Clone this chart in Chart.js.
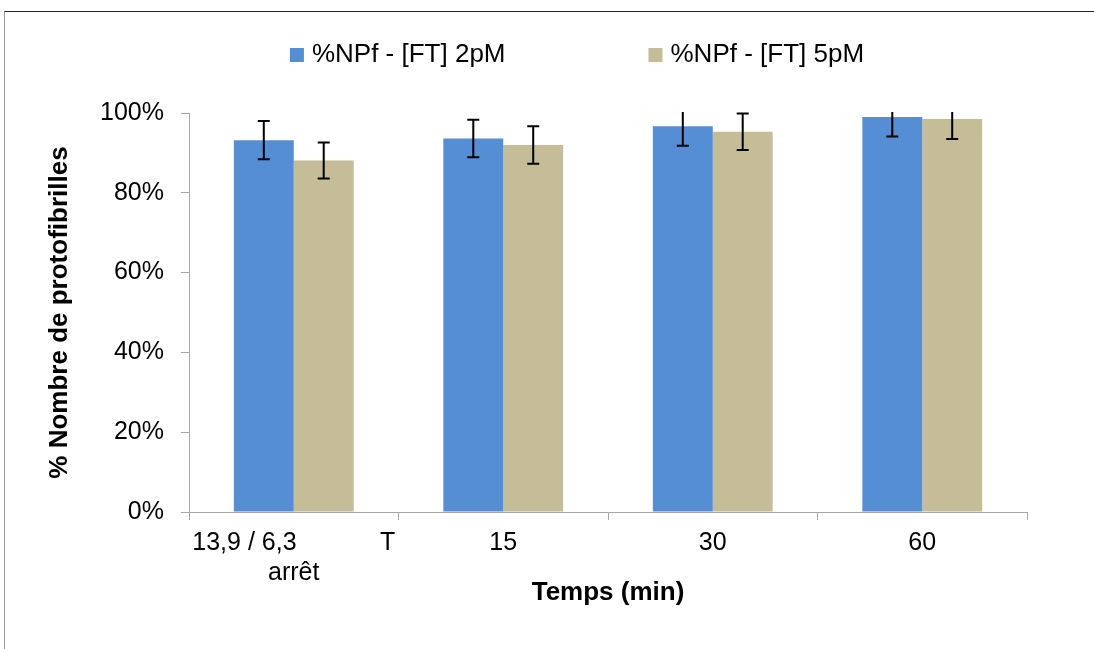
<!DOCTYPE html>
<html>
<head>
<meta charset="utf-8">
<script src="https://cdn.jsdelivr.net/npm/chart.js@4/dist/chart.umd.min.js"></script>
<style>
  html, body { margin: 0; padding: 0; background: #fff; }
  #frame {
    position: absolute; left: 4px; top: 11px; right: 0; bottom: 0;
    border-top: 1px solid #222; border-left: 1px solid #9a9a9a;
  }
  #wrap { position: absolute; left: 0; top: 0; width: 1094px; height: 649px; }
</style>
</head>
<body>
<div id="frame"></div>
<div id="wrap"><canvas id="chart"></canvas></div>
<script>
// ---------- data ----------
const categories = [['13,9 / 6,3            T', 'arrêt'], '15', '30', '60'];
const seriesNames = ['%NPf - [FT] 2pM', '%NPf - [FT] 5pM'];
const values2pM = [93.2, 93.6, 96.7, 99.0];
const values5pM = [88.1, 92.0, 95.3, 98.5];
const errors2pM = [4.8, 4.7, 4.9, 4.9];
const errors5pM = [4.5, 4.7, 4.6, 5.0];
const yTicks = [0, 20, 40, 60, 80, 100];

const FONT = "'Liberation Sans', Arial, sans-serif";
const AXIS_GREY = '#a6a6a6';

// error bars, clipped to the plot area like the original
const errorBars = {
  id: 'errorBars',
  afterDatasetsDraw(chart) {
    const { ctx, chartArea, scales } = chart;
    ctx.save();
    ctx.beginPath();
    ctx.rect(chartArea.left, chartArea.top - 1, chartArea.width, chartArea.height + 1);
    ctx.clip();
    ctx.strokeStyle = '#000';
    ctx.lineWidth = 2;
    chart.data.datasets.forEach((ds, i) => {
      const meta = chart.getDatasetMeta(i);
      meta.data.forEach((bar, j) => {
        const v = ds.data[j], e = ds.errors[j];
        const yTop = scales.y.getPixelForValue(v + e);
        const yBot = scales.y.getPixelForValue(v - e);
        ctx.beginPath();
        ctx.moveTo(bar.x, yTop); ctx.lineTo(bar.x, yBot);
        ctx.moveTo(bar.x - 6, yTop); ctx.lineTo(bar.x + 6, yTop);
        ctx.moveTo(bar.x - 6, yBot); ctx.lineTo(bar.x + 6, yBot);
        ctx.stroke();
      });
    });
    ctx.restore();
  }
};

// legend with the wide gap between the two entries
const spacedLegend = {
  id: 'spacedLegend',
  afterDraw(chart, args, opts) {
    const { ctx } = chart;
    ctx.save();
    ctx.font = `${opts.size}px ${FONT}`;
    ctx.textBaseline = 'middle';
    const items = chart.data.datasets.map(ds => ({
      text: ds.label, color: ds.backgroundColor,
      w: opts.box + opts.textGap + ctx.measureText(ds.label).width
    }));
    const total = items.reduce((s, it) => s + it.w, 0) + opts.gap * (items.length - 1);
    let x = opts.centerX - total / 2;
    items.forEach(it => {
      ctx.fillStyle = it.color;
      ctx.fillRect(x, opts.y - opts.box / 2, opts.box, opts.box);
      ctx.fillStyle = '#000';
      ctx.fillText(it.text, x + opts.box + opts.textGap, opts.y);
      x += it.w + opts.gap;
    });
    ctx.restore();
  }
};

new Chart(document.getElementById('chart'), {
  type: 'bar',
  data: {
    labels: categories,
    datasets: [{
      label: seriesNames[0],
      data: values2pM,
      errors: errors2pM,
      backgroundColor: '#558ed5'
    }, {
      label: seriesNames[1],
      data: values5pM,
      errors: errors5pM,
      backgroundColor: '#c4bd97'
    }]
  },
  options: {
    responsive: true,
    maintainAspectRatio: false,
    animation: false,
    categoryPercentage: 0.572,
    barPercentage: 1.0,
    layout: { padding: { top: 113, right: 67, bottom: 0, left: 0 } },
    plugins: {
      legend: { display: false },
      tooltip: { enabled: false },
      spacedLegend: { centerX: 577, y: 55, size: 26, box: 14, textGap: 8, gap: 143 }
    },
    scales: {
      x: {
        afterFit: (s) => { s.height = 137; },
        grid: { offset: true, drawOnChartArea: false, tickLength: 8, color: AXIS_GREY },
        border: { color: AXIS_GREY },
        ticks: {
          color: '#000', padding: 8, maxRotation: 0, autoSkip: false,
          font: { family: FONT, size: 25, lineHeight: 1.2 }
        },
        title: {
          display: true, text: 'Temps (min)', color: '#000',
          font: { family: FONT, size: 26, weight: 'bold', lineHeight: 1.2 },
          padding: { top: 0, bottom: 41 }
        }
      },
      y: {
        min: 0, max: 100,
        afterFit: (s) => { s.width = 189; },
        afterBuildTicks: (s) => { s.ticks = yTicks.map(v => ({ value: v })); },
        grid: { drawOnChartArea: false, tickLength: 8, color: AXIS_GREY },
        border: { color: AXIS_GREY },
        ticks: {
          color: '#000', padding: 17,
          font: { family: FONT, size: 25 },
          callback: (v) => v + '%'
        },
        title: {
          display: true, text: '% Nombre de protofibrilles', color: '#000',
          font: { family: FONT, size: 26, weight: 'bold', lineHeight: 1.2 },
          padding: { top: 44, bottom: 0 }
        }
      }
    }
  },
  plugins: [errorBars, spacedLegend]
});
</script>
</body>
</html>
